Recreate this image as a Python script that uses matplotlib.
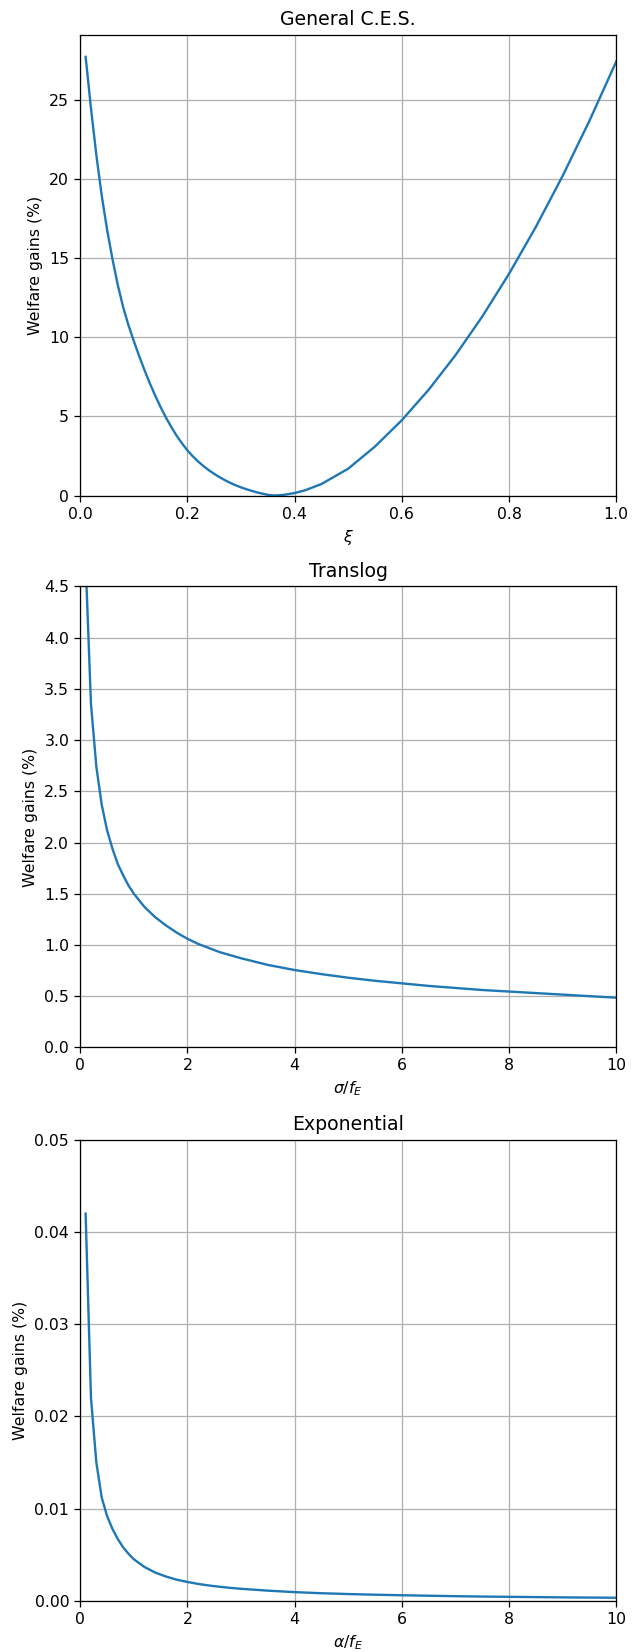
import numpy as np
import matplotlib
matplotlib.use('Agg')
import matplotlib.pyplot as plt

# General C.E.S. welfare gains against xi
ces_xi = [0.01, 0.02, 0.03, 0.04, 0.05, 0.06, 0.07, 0.08, 0.09, 0.10,
          0.11, 0.12, 0.13, 0.14, 0.15, 0.16, 0.17, 0.18, 0.19, 0.20,
          0.21, 0.22, 0.23, 0.24, 0.25, 0.26, 0.27, 0.28, 0.29, 0.30,
          0.31, 0.32, 0.33, 0.34, 0.35, 0.36, 0.37, 0.38, 0.40, 0.42,
          0.45, 0.50, 0.55, 0.60, 0.65, 0.70, 0.75, 0.80, 0.85, 0.90,
          0.95, 1.00]
ces_gain = [27.7, 24.45, 21.5, 18.95, 16.8, 14.95, 13.3, 11.9, 10.75, 9.75,
            8.80, 7.91, 7.07, 6.30, 5.58, 4.92, 4.32, 3.77, 3.29, 2.85,
            2.48, 2.15, 1.86, 1.60, 1.37, 1.16, 0.97, 0.80, 0.65, 0.52,
            0.40, 0.30, 0.20, 0.12, 0.05, 0.01, 0.02, 0.05, 0.16, 0.34,
            0.73, 1.7, 3.1, 4.76, 6.68, 8.86, 11.3, 14.0, 16.96, 20.18,
            23.66, 27.4]

# Translog welfare gains against sigma/f_E
tl_x = [0.1, 0.2, 0.3, 0.4, 0.5, 0.6, 0.7, 0.8, 0.9, 1.0,
        1.2, 1.4, 1.6, 1.8, 2.0, 2.2, 2.4, 2.6, 2.8, 3.0,
        3.5, 4.0, 4.5, 5.0, 5.5, 6.0, 6.5, 7.0, 7.5, 8.0,
        8.5, 9.0, 9.5, 10.0]
tl_gain = [4.74, 3.35, 2.74, 2.37, 2.12, 1.94, 1.79, 1.68, 1.58, 1.50,
           1.37, 1.27, 1.19, 1.12, 1.06, 1.01, 0.97, 0.93, 0.90, 0.87,
           0.805, 0.755, 0.715, 0.68, 0.65, 0.625, 0.60, 0.58, 0.56, 0.545,
           0.53, 0.515, 0.50, 0.485]

# Exponential welfare gains against alpha/f_E
ex_x = [0.1, 0.2, 0.3, 0.4, 0.5, 0.6, 0.7, 0.8, 0.9, 1.0,
        1.2, 1.4, 1.6, 1.8, 2.0, 2.2, 2.4, 2.6, 2.8, 3.0,
        3.5, 4.0, 4.5, 5.0, 5.5, 6.0, 6.5, 7.0, 7.5, 8.0,
        8.5, 9.0, 9.5, 10.0]
ex_gain = [0.042, 0.022, 0.0150, 0.0112, 0.0092, 0.0078, 0.0067, 0.0058, 0.0051, 0.0045,
           0.00366, 0.00306, 0.00263, 0.00229, 0.00204, 0.00183, 0.00166, 0.00152, 0.0014, 0.0013,
           0.0011, 0.00094, 0.00082, 0.00073, 0.00066, 0.0006, 0.00055, 0.0005, 0.00046, 0.00043,
           0.0004, 0.00037, 0.00035, 0.00033]

dpi = 113.6
fig = plt.figure(figsize=(632.01 / dpi, 1652.01 / dpi), dpi=dpi)
left, width = 0.127, 0.848
ax1 = fig.add_axes([left, 0.700, width, 0.279])
ax2 = fig.add_axes([left, 0.366, width, 0.279])
ax3 = fig.add_axes([left, 0.031, width, 0.279])

ax1.plot(ces_xi, ces_gain)
ax1.set_xlim(0, 1)
ax1.set_ylim(0, 29.1)
ax1.set_title('General C.E.S.')
ax1.set_xlabel(r'$\xi$')

ax2.plot(tl_x, tl_gain)
ax2.set_xlim(0, 10)
ax2.set_ylim(0, 4.5)
ax2.set_title('Translog')
ax2.set_xlabel(r'$\sigma/f_E$')

ax3.plot(ex_x, ex_gain)
ax3.set_xlim(0, 10)
ax3.set_ylim(0, 0.05)
ax3.set_title('Exponential')
ax3.set_xlabel(r'$\alpha/f_E$')

for ax in (ax1, ax2, ax3):
    ax.set_ylabel('Welfare gains (%)')
    ax.grid(True)

fig.savefig('out.png', dpi=dpi)
